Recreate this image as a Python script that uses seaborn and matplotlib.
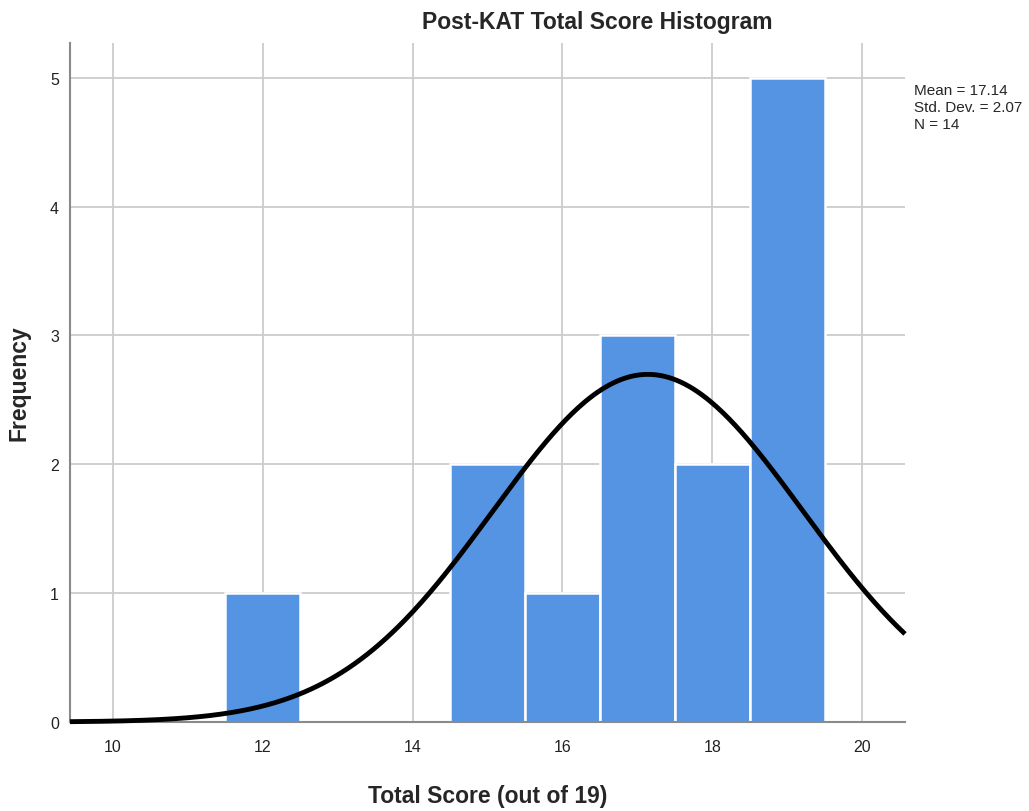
import numpy as np
import pandas as pd
import seaborn as sns
import matplotlib.pyplot as plt

# Histogram data
score_values = [12, 15, 16, 17, 18, 19]
score_counts = [1, 2, 1, 3, 2, 5]
mean_score = 17.14
sd_score = 2.07
n_total = 14

x_ticks = [10, 12, 14, 16, 18, 20]
y_ticks = [0, 1, 2, 3, 4, 5]

sns.set_theme(style="white")
plt.rcParams['font.family'] = ['Liberation Sans', 'DejaVu Sans']

df = pd.DataFrame({'score': score_values, 'count': score_counts})

fig = plt.figure(figsize=(10.29, 8.12), dpi=100)
ax = fig.add_axes([0.068, 0.1096, 0.8115, 0.8362])

sns.histplot(data=df, x='score', weights='count', binwidth=1, binrange=(11.5, 19.5),
             color='#5594E3', alpha=1, edgecolor='white', linewidth=1.8, ax=ax, zorder=2)

# normal curve scaled to counts (bin width 1)
xs = np.linspace(9.43, 20.57, 400)
ys = n_total / (sd_score * np.sqrt(2 * np.pi)) * np.exp(-0.5 * ((xs - mean_score) / sd_score) ** 2)
ax.plot(xs, ys, color='black', lw=3.5, zorder=3, solid_capstyle='butt', clip_on=False)

ax.set_xlim(9.43, 20.57)
ax.set_ylim(0, 5.27)
ax.set_xticks(x_ticks)
ax.set_yticks(y_ticks)
ax.grid(True, color='#cbcbcb', lw=1.3, zorder=0)
ax.set_axisbelow(True)
for s in ['top', 'right']:
    ax.spines[s].set_visible(False)
for s in ['left', 'bottom']:
    ax.spines[s].set_color('#8a8a8a')
    ax.spines[s].set_linewidth(1.5)
ax.tick_params(axis='both', length=0, labelsize=11.5, colors='#222222')
ax.tick_params(axis='x', pad=12)
ax.tick_params(axis='y', pad=8)

ax.set_xlabel('Total Score (out of 19)', fontsize=16.5, fontweight='bold', labelpad=22)
ax.set_ylabel('Frequency', fontsize=16.5, fontweight='bold', labelpad=14)

fig.text(0.58, 0.972, 'Post-KAT Total Score Histogram', fontsize=16.5, fontweight='bold',
         ha='center', va='center')
fig.text(0.888, 0.897, 'Mean = 17.14\nStd. Dev. = 2.07\nN = 14', fontsize=11,
         ha='left', va='top', linespacing=1.3)

fig.savefig('out.png', dpi=100)
